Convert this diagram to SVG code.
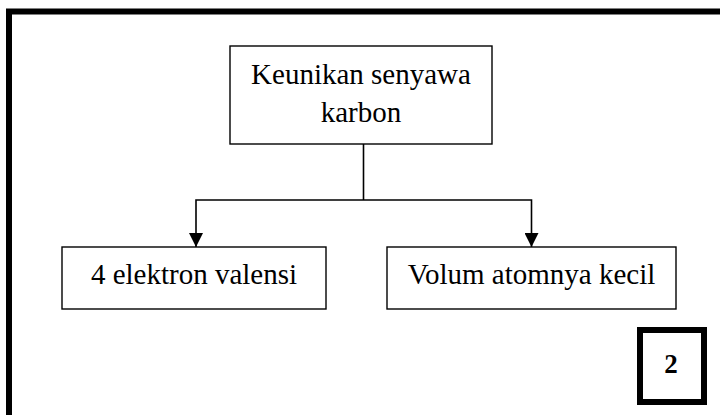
<svg xmlns="http://www.w3.org/2000/svg" width="720" height="415" viewBox="0 0 720 415">
  <defs>
    <marker id="arrow" markerWidth="14" markerHeight="14" refX="14" refY="7" orient="auto-start-reverse" markerUnits="userSpaceOnUse" viewBox="0 0 14 14">
      <path d="M0,0 L14,7 L0,14 Z" fill="#000"/>
    </marker>
  </defs>
  <style>
    .box { fill: #fff; stroke: #000; stroke-width: 1.4; }
    .label { font-family: "Liberation Serif", "Times New Roman", serif; font-size: 29px; fill: #000; text-anchor: middle; }
    .wire { fill: none; stroke: #000; stroke-width: 1.6; }
  </style>
  <rect width="720" height="415" fill="#fff"/>
  <!-- outer frame, running off the right and bottom edges -->
  <rect x="9" y="11.5" width="800" height="500" fill="none" stroke="#000" stroke-width="6"/>

  <g id="node-root">
    <rect class="box" x="230" y="46" width="262" height="98"/>
    <text class="label" x="361" y="84">Keunikan senyawa</text>
    <text class="label" x="361" y="122">karbon</text>
  </g>

  <g id="node-valence">
    <rect class="box" x="62" y="247" width="264" height="62"/>
    <text class="label" x="194" y="284">4 elektron valensi</text>
  </g>

  <g id="node-volume">
    <rect class="box" x="387" y="247" width="289" height="62"/>
    <text class="label" x="531.5" y="284">Volum atomnya kecil</text>
  </g>

  <g id="connectors">
    <path class="wire" d="M363.5,144 V200"/>
    <path class="wire" d="M196,247 V200 H531.5 V247" marker-start="url(#arrow)" marker-end="url(#arrow)"/>
  </g>

  <g id="page-number">
    <rect x="640" y="330" width="64" height="72" fill="#fff" stroke="#000" stroke-width="6"/>
    <text x="671" y="373" font-family="Liberation Serif, Times New Roman, serif" font-size="27" font-weight="bold" text-anchor="middle" fill="#000">2</text>
  </g>
</svg>
